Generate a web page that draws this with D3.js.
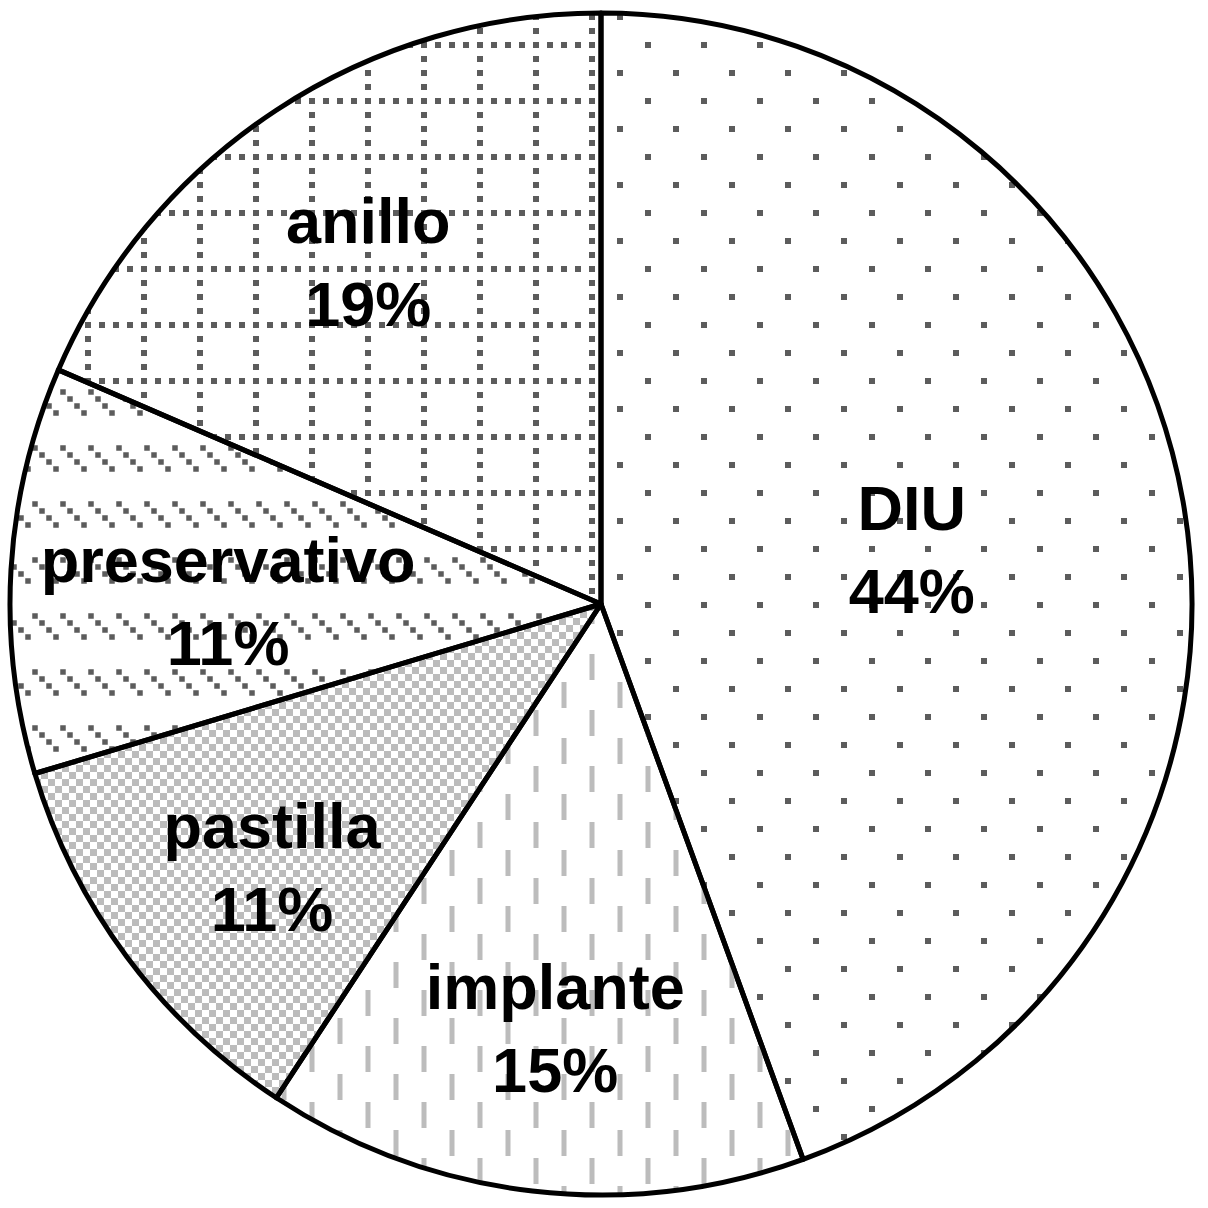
<!DOCTYPE html>
<html>
<head>
<meta charset="utf-8">
<script src="https://cdn.jsdelivr.net/npm/d3@7"></script>
<style>
  html, body { margin: 0; padding: 0; background: #fff; }
  svg { display: block; }
  .label { font-family: "Liberation Sans", Arial, sans-serif; font-weight: bold; font-size: 63px; fill: #000; }
</style>
</head>
<body>
<svg id="chart" width="1208" height="1208"></svg>
<script>
// data (counts)
const categories = ['DIU', 'implante', 'pastilla', 'preservativo', 'anillo'];
const counts = [12, 4, 3, 3, 5];
const patterns = ['dots', 'vdash', 'checker', 'diag', 'grid'];

// label placement: fraction of radius and angle shift (deg) from slice middle
const labelR = [0.534, 0.722, 0.713, 0.631, 0.70];
const labelShift = [0, -0.5, -2.0, -2.8, -0.9];

const width = 1208, height = 1208;
const cx = 601, cy = 604, radius = 591;
const dark = '#5c5c5c', light = '#bcbcbc';

const svg = d3.select('#chart');
const defs = svg.append('defs');

// all tiles share a 56px grid, origin chosen so grid nodes fall on (47, 1) mod 56
const ox = 40, oy = -6;

function tile(id, w, h) {
  return defs.append('pattern')
    .attr('id', id)
    .attr('patternUnits', 'userSpaceOnUse')
    .attr('x', ox).attr('y', oy)
    .attr('width', w).attr('height', h);
}
function sq(p, x, y, s, color) {
  p.append('rect').attr('x', x - s / 2).attr('y', y - s / 2)
    .attr('width', s).attr('height', s).attr('fill', color);
}

// DIU: staggered dots
let p = tile('dots', 56, 56);
sq(p, 7, 7, 6, dark);
sq(p, 35, 35, 6, dark);

// anillo: dotted grid lines
p = tile('grid', 56, 56);
[7, 21, 35, 49].forEach(v => {
  sq(p, 7, v, 6, dark);
  if (v !== 7) sq(p, v, 7, 6, dark);
});

// preservativo: short diagonal runs of squares
p = tile('diag', 28, 56);
[[10, 18], [17, 25], [24, 32], [3, 39]].forEach(d => sq(p, d[0], d[1], 5.5, dark));

// pastilla: checkerboard
p = defs.append('pattern').attr('id', 'checker')
  .attr('patternUnits', 'userSpaceOnUse')
  .attr('width', 14).attr('height', 14);
p.append('rect').attr('width', 7).attr('height', 7).attr('fill', light);
p.append('rect').attr('x', 7).attr('y', 7).attr('width', 7).attr('height', 7).attr('fill', light);

// implante: staggered vertical dashes
p = tile('vdash', 56, 56);
p.append('rect').attr('x', 4.5).attr('y', 0).attr('width', 5).attr('height', 26).attr('fill', light);
p.append('rect').attr('x', 32.5).attr('y', 28).attr('width', 5).attr('height', 26).attr('fill', light);

const data = categories.map((c, i) => ({name: c, value: counts[i], pattern: patterns[i], i: i}));
const total = d3.sum(counts);

const pie = d3.pie().sort(null).value(d => d.value);
const arc = d3.arc().innerRadius(0).outerRadius(radius);
const arcs = pie(data);

const g = svg.append('g').attr('transform', 'translate(' + cx + ',' + cy + ')');

g.selectAll('.slice')
  .data(arcs)
  .enter().append('path')
  .attr('class', 'slice')
  .attr('d', arc)
  .attr('fill', d => 'url(#' + d.data.pattern + ')')
  .attr('stroke', '#000')
  .attr('stroke-width', 5)
  .attr('stroke-linejoin', 'round');

const labels = g.selectAll('.label')
  .data(arcs)
  .enter().append('text')
  .attr('class', 'label')
  .attr('text-anchor', 'middle')
  .attr('transform', d => {
    const a = (d.startAngle + d.endAngle) / 2 + labelShift[d.data.i] * Math.PI / 180;
    const r = labelR[d.data.i] * radius;
    return 'translate(' + (r * Math.sin(a)) + ',' + (-r * Math.cos(a)) + ')';
  });

labels.append('tspan').attr('x', 0).attr('y', -19).text(d => d.data.name);
labels.append('tspan').attr('x', 0).attr('y', 64)
  .text(d => Math.round(d.data.value / total * 100) + '%');
</script>
</body>
</html>
